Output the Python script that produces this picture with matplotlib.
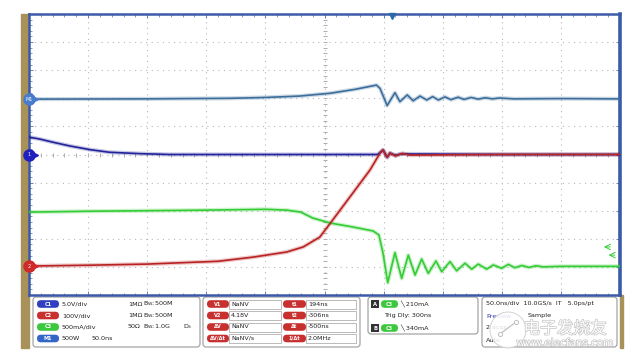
import matplotlib
matplotlib.use("Agg")
import matplotlib.pyplot as plt
import matplotlib.patheffects as pe
from matplotlib.patches import FancyBboxPatch, Rectangle, Circle

# time in ns (50 ns/div, 10 div), values in divisions from the bottom
t_m1 = [0, 100, 170, 200, 229, 255, 276, 294, 297, 303, 309.6, 313.8, 320, 325, 330.8,
        336.5, 341.5, 346.3, 352, 357, 363, 368, 374, 380, 386, 392, 398, 410, 450, 500]
v_m1 = [6.97, 6.98, 7.0, 7.03, 7.08, 7.18, 7.32, 7.47, 7.35, 6.74, 7.2, 6.88, 7.12, 6.91, 7.08,
        6.94, 7.06, 6.94, 7.05, 6.95, 7.04, 6.96, 7.03, 6.97, 7.02, 6.98, 7.01, 6.98, 6.99, 6.98]

t_c1 = [0, 9, 22, 35, 52, 68, 94, 119, 200, 295, 299.5, 303, 305.4, 310, 315, 400, 500]
v_c1 = [5.62, 5.55, 5.42, 5.3, 5.17, 5.08, 5.03, 5.0, 5.0, 5.0, 5.16, 4.9, 5.05, 4.97, 5.02, 5.0, 5.0]

t_c2 = [0, 50, 100, 160, 190, 218, 232, 246, 255, 274, 288.5, 297, 299.5, 303, 305.4, 310, 316, 322, 400, 500]
v_c2 = [1.03, 1.06, 1.1, 1.2, 1.35, 1.53, 1.71, 2.06, 2.56, 3.63, 4.45, 5.05, 5.16, 4.9, 5.05, 4.95, 5.04, 4.98, 5.0, 5.0]

t_c3 = [0, 50, 100, 150, 200, 218, 230, 240, 255, 274, 291, 296, 299.5, 303.5, 309.6, 315.3,
        320.9, 326.6, 332.2, 337.8, 344.3, 349.1, 356.2, 361.8, 368.9, 374.5, 380.1, 387.2,
        392.8, 399.9, 405.5, 411, 417, 423, 429, 435, 450, 500]
v_c3 = [2.95, 2.98, 3.0, 3.02, 3.05, 3.02, 2.95, 2.74, 2.56, 2.42, 2.28, 2.14, 1.49, 0.44, 1.51, 0.59,
        1.42, 0.71, 1.28, 0.77, 1.21, 0.83, 1.19, 0.86, 1.13, 0.92, 1.1, 0.92,
        1.07, 0.95, 1.09, 0.97, 1.05, 0.98, 1.04, 1.0, 1.02, 1.02]

ch_rows = [("C1", "5.0V/div", "1MΩ", r"$\mathregular{B_W}$:500M", ""),
           ("C2", "100V/div", "1MΩ", r"$\mathregular{B_W}$:500M", ""),
           ("C3", "500mA/div", "50Ω", r"$\mathregular{B_W}$:1.0G", r"$\mathregular{D_S}$"),
           ("M1", "500W", "50.0ns", "", "")]
ch_colors = ["#2f3fc0", "#c83030", "#3cc83c", "#3466c8"]
cur_labels = ["V1", "V2", "ΔV", "ΔV/Δt"]
cur_values = ["NaNV", "4.18V", "NaNV", "NaNV/s"]
time_labels = ["t1", "t2", "Δt", "1/Δt"]
time_values = ["194ns", "-306ns", "-500ns", "2.0MHz"]

fig = plt.figure(figsize=(6.4, 3.6), dpi=100)
fig.patch.set_facecolor("white")

# overlay in pixel coordinates for the frame and the readout panels
ov = fig.add_axes([0, 0, 1, 1], zorder=0)
ov.set_xlim(0, 640)
ov.set_ylim(360, 0)
ov.axis("off")

ax = fig.add_axes([29 / 640, 65 / 360, 591 / 640, 281 / 360], zorder=2)
ax.set_xlim(0, 500)
ax.set_ylim(0, 10)
ax.set_xticks(range(0, 501, 50))
ax.set_yticks(range(0, 11))
ax.set_xticks(range(0, 501, 10), minor=True)
ax.set_yticks([i * 0.2 for i in range(51)], minor=True)
ax.tick_params(which="both", direction="in", top=True, right=True,
               labelbottom=False, labelleft=False, color="#5070b0")
ax.tick_params(which="major", length=3, width=0.6)
ax.tick_params(which="minor", length=1.8, width=0.5)
ax.grid(True, which="major", linestyle=(0, (1, 4)), color="#b8b8b8", linewidth=0.8)
for s in ax.spines.values():
    s.set_color("#3c5aa8")
    s.set_linewidth(1.8)
ax.spines["right"].set_linewidth(2.6)

# centre graticule ticks
ax.plot(range(0, 501, 10), [5] * 51, "|", color="#a0a0a0", ms=3, mew=0.6, zorder=1)
ax.plot([250] * 51, [i * 0.2 for i in range(51)], "_", color="#a0a0a0", ms=3, mew=0.6, zorder=1)

traces = [(t_c3, v_c3, "#34cc34"), (t_c1, v_c1, "#22229a"),
          (t_c2, v_c2, "#b82222"), (t_m1, v_m1, "#3c6e9c")]
for t, v, c in traces:
    ax.plot(t, v, color=c, lw=3.0, alpha=0.25, solid_joinstyle="round", zorder=3)
    ax.plot(t, v, color=c, lw=1.2, solid_joinstyle="round", zorder=4)

# channel markers on the left edge
for lvl, c, lab in [(v_m1[0], "#4a7ccc", "M1"), (v_c1[-1], "#2020c0", "1"), (v_c2[0], "#d02a2a", "2")]:
    ax.plot(0, lvl, "o", ms=8, color=c, clip_on=False, zorder=6)
    ax.plot(5, lvl, ">", ms=4, color=c, clip_on=False, zorder=6)
    ax.text(0, lvl, lab, color="white", fontsize=3.5, ha="center", va="center", zorder=7, clip_on=False)

# trigger level arrows and trigger position
ax.annotate("", xy=(484, 1.71), xytext=(494, 1.71),
            arrowprops=dict(arrowstyle="->", color="#34cc34", lw=0.7))
ax.annotate("", xy=(488, 1.42), xytext=(498, 1.42),
            arrowprops=dict(arrowstyle="->", color="#34cc34", lw=0.7))
ax.plot(307, 9.92, "v", ms=4, color="#2a6aa8", clip_on=False, zorder=6)

# tan frame strips
ov.add_patch(Rectangle((21, 14), 8, 334, color="#a8925a"))
ov.add_patch(Rectangle((620, 295), 3, 53, color="#a8925a"))

def panel(x0, y0, x1, y1):
    ov.add_patch(FancyBboxPatch((x0, y0), x1 - x0, y1 - y0,
                                boxstyle="round,pad=0,rounding_size=3",
                                fc="white", ec="#9a9a9a", lw=0.8))

def badge(x, y, w, c, txt=""):
    ov.add_patch(FancyBboxPatch((x, y - 3.8), w, 7.6, boxstyle="round,pad=0,rounding_size=3.8",
                                fc=c, ec="none"))
    if txt:
        ov.text(x + w / 2, y, txt, color="white", fontsize=3.6, ha="center", va="center",
                fontweight="bold")

fs = 4.6
rows_y = [304, 315.5, 327, 338.5]

panel(33, 297, 200, 347)
for (ch, scale, imp, bw, extra), c, y in zip(ch_rows, ch_colors, rows_y):
    badge(37, y, 22, c, ch)
    ov.text(62, y, scale, fontsize=fs, va="center", color="#222222")
    if ch == "M1":
        ov.text(92, y, imp, fontsize=fs, va="center", color="#222222")
    else:
        ov.text(128, y, imp, fontsize=fs, va="center", color="#222222")
        ov.text(143, y, bw, fontsize=fs, va="center", color="#222222")
    if extra:
        ov.text(183, y, extra, fontsize=fs, va="center", color="#222222")

panel(203, 297, 360, 347)
for lab, val, tlab, tval, y in zip(cur_labels, cur_values, time_labels, time_values, rows_y):
    badge(207, y, 22, "#c83030", lab)
    ov.add_patch(Rectangle((229, y - 4.5), 52, 9, fc="white", ec="#b0b0b0", lw=0.6))
    ov.text(231, y, val, fontsize=fs, va="center", color="#222222")
    badge(283, y, 23, "#c83030", tlab)
    ov.add_patch(Rectangle((306, y - 4.5), 50, 9, fc="white", ec="#b0b0b0", lw=0.6))
    ov.text(308, y, tval, fontsize=fs, va="center", color="#222222")

panel(368, 297, 478, 334)
for y, lab, val in [(304, "A", "210mA"), (328, "B", "340mA")]:
    ov.add_patch(Rectangle((371, y - 4), 8, 8, fc="#333333", ec="none"))
    ov.text(375, y, lab, color="white", fontsize=3.8, ha="center", va="center", fontweight="bold")
    badge(381, y, 17, "#3cc83c", "C3")
    ov.text(400, y, "╲ " + val, fontsize=fs, va="center", color="#222222")
ov.text(384, 316, "Trig Dly: 300ns", fontsize=fs, va="center", color="#222222")

panel(482, 297, 617, 347)
ov.text(486, 304, "50.0ns/div  10.0GS/s  IT   5.0ps/pt", fontsize=fs, va="center", color="#222222")
ov.text(486, 316, "Preview", fontsize=fs, va="center", color="#3030b0")
ov.text(528, 316, "Sample", fontsize=fs, va="center", color="#222222")
ov.text(486, 328, "2 acqs", fontsize=fs, va="center", color="#222222")
ov.text(486, 340, "Auto", fontsize=fs, va="center", color="#222222")

# faint watermark
wm = [pe.withStroke(linewidth=1.0, foreground="#c4c4c4")]
ov.add_patch(Circle((508, 330), 18, fc="white", ec="#cccccc", lw=0.7, alpha=0.85, zorder=5))
ov.plot([500, 516], [334, 322], color="#c0c0c0", lw=0.9, zorder=6)
ov.plot([500, 516], [334, 322], "o", ms=3, mfc="white", mec="#c0c0c0", mew=0.7, zorder=6)
ov.text(565, 329, "电子发烧友", fontsize=12, ha="center", va="center", color="white",
        family=["Noto Sans CJK SC", "DejaVu Sans"], path_effects=wm, zorder=6)
ov.text(565, 343, "www.elecfans.com", fontsize=7.5, ha="center", va="center", color="white",
        path_effects=wm, zorder=6)

fig.savefig("out.png", dpi=100)
